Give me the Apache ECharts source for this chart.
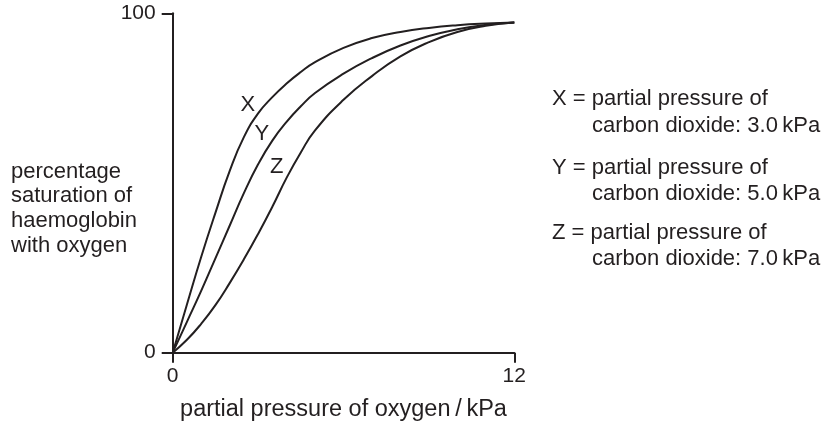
<!DOCTYPE html>
<html>
<head>
<meta charset="utf-8">
<script src="https://cdn.jsdelivr.net/npm/echarts@6/dist/echarts.min.js"></script>
<style>
html,body{margin:0;padding:0;background:#fff;}
#chart{width:834px;height:422px;}
</style>
</head>
<body>
<div id="chart"></div>
<script>
// partial pressure of oxygen / kPa
const pO2 = [0, 0.5, 1, 1.5, 2, 2.5, 3, 3.5, 4, 4.5, 5, 6, 7, 8, 9, 10, 11, 12];
// percentage saturation of haemoglobin
const curveX = [0, 14.2, 28.2, 41.2, 53.5, 63.5, 70.5, 75.3, 79.3, 82.7, 85.6, 89.8, 92.7, 94.5, 95.7, 96.5, 97.0, 97.3];
const curveY = [0, 9.1, 18.2, 27.8, 37.4, 47, 55.5, 62.5, 68, 72.6, 76.5, 82.2, 86.8, 90.5, 93.3, 95.3, 96.6, 97.3];
const curveZ = [0, 3.8, 8.5, 14, 20.5, 27.5, 35, 43, 51.5, 59, 65.5, 74.5, 81.5, 87.3, 91.5, 94.5, 96.3, 97.3];
const curveNames = ['X', 'Y', 'Z'];
const curveLabelPos = [[2.64, 73.0], [3.13, 64.5], [3.65, 54.8]];
const xTicks = [0, 12];
const yTicks = [0, 100];
const keyLines = [
  ['X = partial pressure of', 'carbon dioxide: 3.0\u2009kPa'],
  ['Y = partial pressure of', 'carbon dioxide: 5.0\u2009kPa'],
  ['Z = partial pressure of', 'carbon dioxide: 7.0\u2009kPa']
];
const yTitleLines = ['percentage', 'saturation of', 'haemoglobin', 'with oxygen'];
const xTitle = 'partial pressure of oxygen\u2009/\u2009kPa';

const INK = '#231f20';
const FONT = '"Liberation Sans", Arial, sans-serif';
const FS = 22;

const pairs = arr => pO2.map((x, i) => [x, arr[i]]);
const lineSeries = [curveX, curveY, curveZ].map((arr, i) => ({
  type: 'line',
  name: curveNames[i],
  data: pairs(arr),
  smooth: 0.5,
  showSymbol: false,
  lineStyle: { color: INK, width: 2 },
  silent: true
}));

const labelSeries = {
  type: 'scatter',
  symbolSize: 1,
  itemStyle: { color: 'rgba(0,0,0,0)', opacity: 1 },
  data: curveLabelPos.map((p, i) => ({ value: p, name: curveNames[i] })),
  label: {
    show: true,
    position: 'inside',
    formatter: p => p.name,
    color: INK,
    opacity: 1,
    fontFamily: FONT,
    fontSize: FS
  },
  silent: true
};

const graphics = [];
const keyTop = [100.5, 169, 234];
keyLines.forEach((ln, i) => {
  graphics.push({ type: 'text', left: 552, top: keyTop[i] - 12.5, style: { text: ln[0], font: FS + 'px ' + FONT, fill: INK } });
  graphics.push({ type: 'text', left: 592, top: keyTop[i] + 26.5 - 12.5, style: { text: ln[1], font: FS + 'px ' + FONT, fill: INK } });
});
yTitleLines.forEach((t, i) => {
  graphics.push({ type: 'text', left: 11, top: 160.5 + i * 24.7, style: { text: t, font: FS + 'px ' + FONT, fill: INK } });
});

const chart = echarts.init(document.getElementById('chart'), null, { renderer: 'canvas' });
chart.setOption({
  animation: false,
  backgroundColor: '#fff',
  grid: { left: 172.7, right: 319.7, top: 13.3, bottom: 69.3, containLabel: false, outerBoundsMode: 'none' },
  xAxis: {
    type: 'value',
    min: xTicks[0],
    max: xTicks[1],
    interval: xTicks[1] - xTicks[0],
    name: xTitle,
    nameLocation: 'middle',
    nameGap: 45,
    nameTextStyle: { color: INK, fontFamily: FONT, fontSize: 23.5 },
    axisLine: { show: true, onZero: false, lineStyle: { color: INK, width: 2 } },
    axisTick: { show: true, inside: false, length: 10, lineStyle: { color: INK, width: 2 } },
    axisLabel: { show: true, margin: 13, color: INK, fontFamily: FONT, fontSize: 21 },
    splitLine: { show: false }
  },
  yAxis: {
    type: 'value',
    min: yTicks[0],
    max: yTicks[1],
    interval: yTicks[1] - yTicks[0],
    axisLine: { show: true, onZero: false, lineStyle: { color: INK, width: 2 } },
    axisTick: { show: true, inside: false, length: 11, lineStyle: { color: INK, width: 2 } },
    axisLabel: { show: true, margin: 17, color: INK, fontFamily: FONT, fontSize: 21 },
    splitLine: { show: false }
  },
  series: lineSeries.concat([labelSeries]),
  graphic: graphics
});
</script>
</body>
</html>
